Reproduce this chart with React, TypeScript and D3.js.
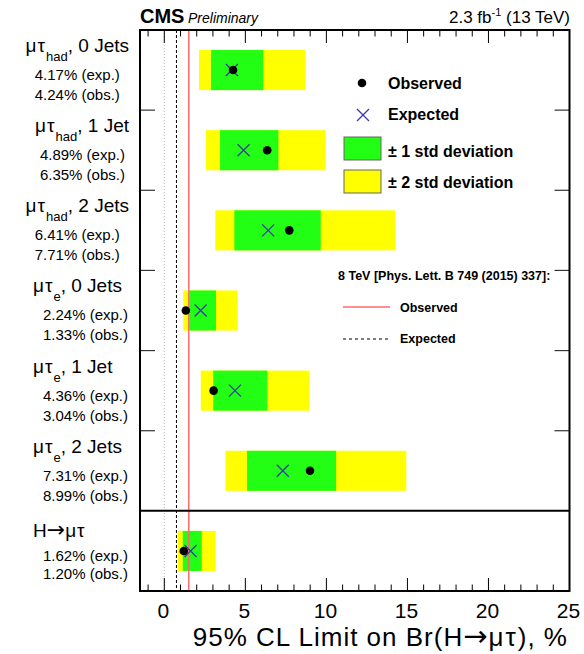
import React, { useEffect, useRef } from "react";
import * as d3 from "d3";

// channels, top to bottom
const channels = ["had", "had", "had", "e", "e", "e", "comb"];
const jetLabels = ["0 Jets", "1 Jet", "2 Jets", "0 Jets", "1 Jet", "2 Jets", ""];
// limits in %
const expected = [4.17, 4.89, 6.41, 2.24, 4.36, 7.31, 1.62];
const observed = [4.24, 6.35, 7.71, 1.33, 3.04, 8.99, 1.2];
const minus2 = [2.14, 2.57, 3.15, 1.17, 2.25, 3.77, 0.83];
const minus1 = [2.88, 3.44, 4.32, 1.54, 3.02, 5.1, 1.14];
const plus1 = [6.11, 7.04, 9.65, 3.19, 6.36, 10.6, 2.31];
const plus2 = [8.73, 9.96, 14.24, 4.53, 8.95, 14.93, 3.17];
// 8 TeV result
const obs8TeV = 1.51;
const exp8TeV = 0.75;
const majorTicks = [0, 5, 10, 15, 20, 25];

const W = 584, H = 654;
const FONT = "'Liberation Sans', Arial, Helvetica, sans-serif";
const ARROW_FONT = "'DejaVu Sans', sans-serif";

export default function App() {
  const ref = useRef<SVGSVGElement>(null);

  useEffect(() => {
    document.body.style.margin = "0";
    const svg = d3.select(ref.current);
    svg.selectAll("*").remove();
    svg.attr("font-family", FONT);

    const left = 140, right = 569.5, top = 30, bottom = 591;
    const x = d3.scaleLinear().domain([-1.5, 25]).range([left, right]);
    const idx = d3.range(channels.length);
    const y = d3.scaleBand<number>().domain(idx).range([top, bottom]).padding(0);
    const bw = y.bandwidth();

    const g = svg.append("g");

    // bands
    const bands = g.selectAll("g.row").data(idx).enter().append("g");
    bands.append("rect")
      .attr("x", (i) => x(minus2[i]))
      .attr("width", (i) => x(plus2[i]) - x(minus2[i]))
      .attr("y", (i) => y(i)! + bw * 0.25)
      .attr("height", bw * 0.5)
      .attr("fill", "#ffff00");
    bands.append("rect")
      .attr("x", (i) => x(minus1[i]))
      .attr("width", (i) => x(plus1[i]) - x(minus1[i]))
      .attr("y", (i) => y(i)! + bw * 0.25)
      .attr("height", bw * 0.5)
      .attr("fill", "#22ff14");

    // reference lines
    g.append("line").attr("x1", x(0)).attr("x2", x(0)).attr("y1", top).attr("y2", bottom)
      .attr("stroke", "#bbb").attr("stroke-width", 1).attr("stroke-dasharray", "1,2");
    g.append("line").attr("x1", x(exp8TeV)).attr("x2", x(exp8TeV)).attr("y1", top).attr("y2", bottom)
      .attr("stroke", "#000").attr("stroke-width", 1).attr("stroke-dasharray", "3,2");
    g.append("line").attr("x1", x(obs8TeV)).attr("x2", x(obs8TeV)).attr("y1", top).attr("y2", bottom)
      .attr("stroke", "#ff6a6a").attr("stroke-width", 1.5);

    // markers
    const s = 6;
    const cross = (cx: number, cy: number, sel: any) => {
      sel.append("path")
        .attr("d", `M${cx - s},${cy - s}L${cx + s},${cy + s}M${cx - s},${cy + s}L${cx + s},${cy - s}`)
        .attr("stroke", "#3a3aa8").attr("stroke-width", 1.3).attr("fill", "none");
    };
    idx.forEach((i) => cross(x(expected[i]), y(i)! + bw / 2, g));
    g.selectAll("circle.obs").data(idx).enter().append("circle")
      .attr("cx", (i) => x(observed[i]))
      .attr("cy", (i) => y(i)! + bw / 2)
      .attr("r", 4.3)
      .attr("fill", "#000");

    // row separators
    idx.slice(1).forEach((i) => {
      const yy = y(i)!;
      if (i === channels.length - 1) {
        g.append("line").attr("x1", left).attr("x2", right).attr("y1", yy).attr("y2", yy)
          .attr("stroke", "#000").attr("stroke-width", 2);
      } else {
        g.append("line").attr("x1", left).attr("x2", left + 15).attr("y1", yy).attr("y2", yy)
          .attr("stroke", "#333").attr("stroke-width", 1.2);
        g.append("line").attr("x1", right - 15).attr("x2", right).attr("y1", yy).attr("y2", yy)
          .attr("stroke", "#333").attr("stroke-width", 1.2);
      }
    });

    // x ticks, top and bottom, inward
    const minor = d3.range(-1, 26, 1);
    minor.forEach((v) => {
      const len = majorTicks.includes(v) ? 13 : 6.5;
      g.append("line").attr("x1", x(v)).attr("x2", x(v)).attr("y1", bottom).attr("y2", bottom - len)
        .attr("stroke", "#000").attr("stroke-width", 1);
      g.append("line").attr("x1", x(v)).attr("x2", x(v)).attr("y1", top).attr("y2", top + len)
        .attr("stroke", "#000").attr("stroke-width", 1);
    });
    g.selectAll("text.tick").data(majorTicks).enter().append("text")
      .attr("x", (v) => x(v) - 1).attr("y", 618)
      .attr("text-anchor", "middle").attr("font-size", 21)
      .text((v) => String(v));

    // frame
    g.append("rect").attr("x", left).attr("y", top).attr("width", right - left).attr("height", bottom - top)
      .attr("fill", "none").attr("stroke", "#000").attr("stroke-width", 2);

    // axis title
    const at = svg.append("text").attr("x", 568).attr("y", 646).attr("text-anchor", "end")
      .attr("font-size", 26).attr("letter-spacing", 1);
    at.append("tspan").text("95% CL Limit on Br(H");
    at.append("tspan").attr("font-family", ARROW_FONT).attr("font-size", 29).text("→");
    at.append("tspan").attr("letter-spacing", 2).text("μτ");
    at.append("tspan").text("), %");

    // header
    svg.append("text").attr("x", 140).attr("y", 23).attr("font-size", 20).attr("font-weight", "bold").text("CMS");
    svg.append("text").attr("x", 188).attr("y", 23).attr("font-size", 14).attr("font-style", "italic").text("Preliminary");
    const lumi = svg.append("text").attr("x", 570).attr("y", 23).attr("text-anchor", "end").attr("font-size", 17);
    lumi.append("tspan").text("2.3 fb");
    lumi.append("tspan").attr("font-size", 11).attr("dy", -7).text("-1");
    lumi.append("tspan").attr("dy", 7).text(" (13 TeV)");

    // row labels
    idx.forEach((i) => {
      const rt = y(i)!;
      const ch = channels[i];
      const last = ch === "comb";
      const title = svg.append("text").attr("font-size", 19).attr("y", rt + (last ? 26 : 22));
      if (ch === "had") title.attr("x", 129).attr("text-anchor", "end");
      else title.attr("x", 33).attr("text-anchor", "start");
      if (last) {
        title.append("tspan").text("H");
        title.append("tspan").attr("font-family", ARROW_FONT).attr("font-size", 22).text("→");
        title.append("tspan").attr("letter-spacing", 1).text("μτ");
      } else {
        title.append("tspan").attr("letter-spacing", 1).text("μτ");
        title.append("tspan").attr("font-size", 13).attr("dy", 9).text(ch);
        title.append("tspan").attr("dy", -9).text(", " + jetLabels[i]);
      }
      const bb = (title.node() as SVGTextElement).getBBox();
      const lines = [expected[i].toFixed(2) + "% (exp.)", observed[i].toFixed(2) + "% (obs.)"];
      lines.forEach((t, k) => {
        const tx = svg.append("text").attr("font-size", 15)
          .attr("y", rt + (last ? 50 + k * 18 : 50 + k * 20)).text(t);
        if (ch === "had") tx.attr("x", bb.x + bb.width / 2).attr("text-anchor", "middle");
        else tx.attr("x", 128).attr("text-anchor", "end");
      });
    });

    // legend
    const lg = svg.append("g").attr("font-weight", "bold").attr("font-size", 16);
    lg.append("circle").attr("cx", 362).attr("cy", 83).attr("r", 4.3).attr("fill", "#000");
    lg.append("text").attr("x", 388).attr("y", 89).text("Observed");
    cross(363, 115, lg);
    lg.append("text").attr("x", 388).attr("y", 120).text("Expected");
    lg.append("rect").attr("x", 344).attr("y", 137).attr("width", 37).attr("height", 23)
      .attr("fill", "#22ff14").attr("stroke", "#666").attr("stroke-width", 1);
    lg.append("text").attr("x", 388).attr("y", 156.5).text("± 1 std deviation");
    lg.append("rect").attr("x", 344).attr("y", 170).attr("width", 37).attr("height", 23)
      .attr("fill", "#ffff00").attr("stroke", "#666").attr("stroke-width", 1);
    lg.append("text").attr("x", 388).attr("y", 188).text("± 2 std deviation");

    const lg2 = svg.append("g").attr("font-weight", "bold").attr("font-size", 12.5);
    lg2.append("text").attr("x", 338).attr("y", 280).text("8 TeV [Phys. Lett. B 749 (2015) 337]:");
    lg2.append("line").attr("x1", 343).attr("x2", 390).attr("y1", 307).attr("y2", 307)
      .attr("stroke", "#ff6a6a").attr("stroke-width", 1.5);
    lg2.append("text").attr("x", 400).attr("y", 312).text("Observed");
    lg2.append("line").attr("x1", 343).attr("x2", 390).attr("y1", 339).attr("y2", 339)
      .attr("stroke", "#000").attr("stroke-width", 1).attr("stroke-dasharray", "3,3");
    lg2.append("text").attr("x", 400).attr("y", 343).text("Expected");
  }, []);

  return <svg ref={ref} width={W} height={H} style={{ display: "block", background: "#fff" }} />;
}
